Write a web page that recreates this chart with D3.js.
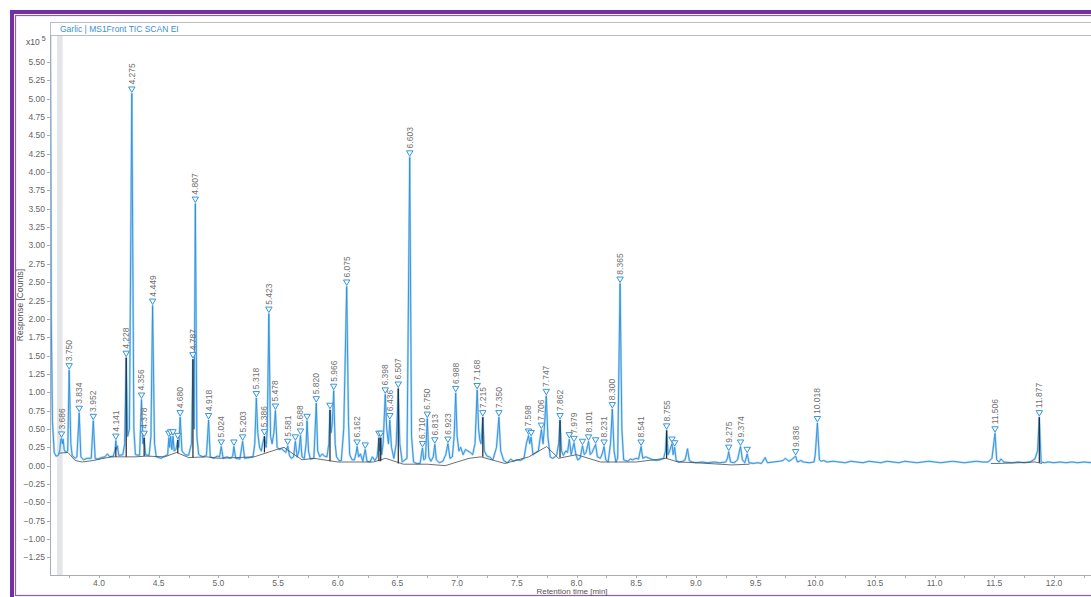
<!DOCTYPE html>
<html>
<head>
<meta charset="utf-8">
<script src="https://cdn.jsdelivr.net/npm/d3@7"></script>
<style>
  body { margin: 0; background: #fff; }
  svg { display: block; font-family: "Liberation Sans", Arial, sans-serif; }
</style>
</head>
<body>
<svg width="1091" height="597"></svg>
<script>
// chromatogram trace, [retention time (min), response (x10^5 counts)]
var tracePoints = [
  [3.593, 6.0], [3.600, 2.0], [3.610, 0.6], [3.625, 0.18], [3.640, 0.13], [3.660, 0.14],
  [3.672, 0.22], [3.680, 0.36], [3.686, 0.37], [3.692, 0.30], [3.700, 0.36], [3.708, 0.22], [3.722, 0.18],
  [3.738, 0.20], [3.750, 1.30], [3.764, 0.30], [3.775, 0.14], [3.800, 0.10], [3.815, 0.12],
  [3.834, 0.72], [3.848, 0.12], [3.870, 0.08], [3.900, 0.10], [3.935, 0.10],
  [3.952, 0.61], [3.968, 0.10], [3.990, 0.09], [4.020, 0.11], [4.050, 0.12], [4.070, 0.16], [4.090, 0.12], [4.120, 0.13],
  [4.135, 0.22], [4.141, 0.34], [4.148, 0.22], [4.155, 0.27], [4.165, 0.14], [4.200, 0.15],
  [4.215, 0.30], [4.228, 1.47], [4.240, 0.40], [4.255, 0.50], [4.275, 5.07], [4.292, 0.50], [4.305, 0.15], [4.340, 0.14],
  [4.356, 0.90], [4.368, 0.30], [4.378, 0.38], [4.390, 0.15], [4.420, 0.14], [4.435, 0.40], [4.449, 2.18], [4.465, 0.30],
  [4.480, 0.12], [4.520, 0.10], [4.550, 0.13], [4.575, 0.15],
  [4.585, 0.38], [4.592, 0.25], [4.600, 0.40], [4.610, 0.22], [4.620, 0.40], [4.630, 0.20], [4.645, 0.22], [4.660, 0.35],
  [4.668, 0.25], [4.680, 0.66], [4.695, 0.20], [4.720, 0.15], [4.750, 0.14],
  [4.775, 0.30], [4.787, 1.45], [4.797, 0.50], [4.807, 3.57], [4.820, 0.40], [4.835, 0.15], [4.870, 0.12], [4.900, 0.14],
  [4.918, 0.62], [4.932, 0.12], [4.960, 0.10], [4.990, 0.13], [5.010, 0.12], [5.024, 0.26], [5.040, 0.10], [5.070, 0.12],
  [5.100, 0.10], [5.120, 0.13], [5.130, 0.26], [5.145, 0.10], [5.180, 0.09], [5.203, 0.33], [5.220, 0.10], [5.260, 0.11],
  [5.290, 0.12], [5.305, 0.30],
  [5.318, 0.92], [5.330, 0.45], [5.345, 0.25], [5.360, 0.20], [5.370, 0.30], [5.386, 0.40], [5.400, 0.25], [5.410, 0.50],
  [5.423, 2.07], [5.437, 0.40], [5.450, 0.30], [5.465, 0.45], [5.478, 0.75], [5.492, 0.25], [5.510, 0.22], [5.530, 0.23],
  [5.550, 0.20], [5.565, 0.18],
  [5.581, 0.27], [5.595, 0.14], [5.610, 0.10], [5.630, 0.12], [5.645, 0.33], [5.660, 0.12], [5.675, 0.20], [5.688, 0.41],
  [5.700, 0.12], [5.720, 0.10], [5.735, 0.30], [5.743, 0.61], [5.755, 0.20], [5.770, 0.09], [5.800, 0.10], [5.808, 0.40],
  [5.820, 0.85], [5.832, 0.20], [5.850, 0.12], [5.870, 0.16], [5.890, 0.13], [5.910, 0.12], [5.925, 0.30], [5.935, 0.76],
  [5.945, 0.45], [5.955, 0.60], [5.966, 1.02], [5.978, 0.30], [5.990, 0.12], [6.010, 0.07], [6.030, 0.07], [6.050, 0.50],
  [6.075, 2.44], [6.090, 0.60], [6.100, 0.15], [6.120, 0.08], [6.140, 0.08], [6.155, 0.18], [6.162, 0.26], [6.175, 0.12],
  [6.190, 0.16], [6.210, 0.06], [6.230, 0.22], [6.245, 0.06], [6.270, 0.05], [6.290, 0.12], [6.310, 0.07], [6.330, 0.12],
  [6.345, 0.38], [6.352, 0.20], [6.360, 0.38], [6.368, 0.15], [6.380, 0.30], [6.398, 0.97], [6.410, 0.50], [6.425, 0.30],
  [6.436, 0.62], [6.450, 0.25], [6.470, 0.10], [6.490, 0.30], [6.507, 1.05], [6.520, 0.30], [6.540, 0.05], [6.580, 0.10],
  [6.603, 4.20], [6.618, 0.40], [6.635, 0.05], [6.660, 0.03], [6.690, 0.03],
  [6.705, 0.20], [6.710, 0.24], [6.720, 0.08], [6.735, 0.10], [6.750, 0.64], [6.763, 0.12], [6.780, 0.06], [6.800, 0.12],
  [6.813, 0.29], [6.826, 0.08], [6.850, 0.04], [6.880, 0.06], [6.905, 0.15], [6.923, 0.30], [6.940, 0.10], [6.960, 0.12],
  [6.975, 0.40], [6.988, 0.99], [7.000, 0.40], [7.015, 0.20], [7.030, 0.25], [7.050, 0.15], [7.070, 0.22], [7.090, 0.20],
  [7.110, 0.18], [7.130, 0.15], [7.150, 0.30], [7.168, 1.03], [7.180, 0.50], [7.190, 0.35], [7.200, 0.30], [7.215, 0.66],
  [7.228, 0.20], [7.250, 0.13], [7.270, 0.12], [7.300, 0.08], [7.330, 0.25], [7.350, 0.66], [7.365, 0.20], [7.390, 0.07],
  [7.420, 0.04], [7.450, 0.09], [7.470, 0.06], [7.500, 0.08], [7.530, 0.07], [7.560, 0.10], [7.580, 0.30],
  [7.598, 0.41], [7.608, 0.30], [7.620, 0.39], [7.635, 0.15], [7.660, 0.18], [7.680, 0.20], [7.706, 0.49], [7.720, 0.30],
  [7.730, 0.50], [7.747, 0.95], [7.760, 0.40], [7.780, 0.12], [7.800, 0.10], [7.820, 0.12], [7.835, 0.15], [7.850, 0.30],
  [7.862, 0.62], [7.875, 0.20], [7.890, 0.14], [7.910, 0.20], [7.925, 0.18], [7.940, 0.36], [7.955, 0.15], [7.979, 0.31],
  [7.995, 0.15], [8.010, 0.08], [8.030, 0.10], [8.050, 0.27], [8.065, 0.15], [8.080, 0.18], [8.101, 0.33], [8.115, 0.15],
  [8.130, 0.18], [8.160, 0.29], [8.175, 0.12], [8.200, 0.10], [8.215, 0.16], [8.231, 0.26], [8.245, 0.08], [8.265, 0.05],
  [8.285, 0.30], [8.300, 0.77], [8.315, 0.20], [8.330, 0.05], [8.345, 0.10], [8.365, 2.48], [8.380, 0.50], [8.395, 0.08],
  [8.410, 0.07], [8.430, 0.06], [8.450, 0.09], [8.470, 0.08], [8.500, 0.10], [8.520, 0.09], [8.541, 0.26], [8.555, 0.10],
  [8.580, 0.12], [8.610, 0.10], [8.640, 0.08], [8.670, 0.07], [8.700, 0.08], [8.730, 0.10], [8.745, 0.20], [8.755, 0.48],
  [8.768, 0.15], [8.780, 0.20], [8.800, 0.30], [8.810, 0.15], [8.822, 0.25], [8.835, 0.07], [8.860, 0.05], [8.890, 0.06],
  [8.910, 0.08], [8.930, 0.23], [8.945, 0.07], [8.970, 0.05], [9.000, 0.04], [9.050, 0.05], [9.100, 0.04], [9.150, 0.05],
  [9.200, 0.04], [9.250, 0.05], [9.265, 0.10], [9.275, 0.19], [9.290, 0.05], [9.320, 0.04], [9.350, 0.08], [9.362, 0.18],
  [9.374, 0.26], [9.390, 0.08], [9.410, 0.04], [9.430, 0.16], [9.445, 0.04], [9.480, 0.03], [9.520, 0.04], [9.550, 0.03],
  [9.580, 0.11], [9.600, 0.04], [9.650, 0.05], [9.700, 0.06], [9.730, 0.07], [9.750, 0.10], [9.780, 0.06], [9.800, 0.08],
  [9.836, 0.13], [9.850, 0.05], [9.880, 0.07], [9.900, 0.05], [9.950, 0.04], [9.990, 0.05], [10.000, 0.15], [10.018, 0.58],
  [10.035, 0.08], [10.050, 0.06], [10.070, 0.07], [10.100, 0.05], [10.150, 0.06], [10.200, 0.05], [10.250, 0.04], [10.300, 0.06],
  [10.350, 0.05], [10.400, 0.04], [10.450, 0.06], [10.500, 0.05], [10.550, 0.04], [10.600, 0.06], [10.650, 0.05], [10.700, 0.04],
  [10.750, 0.06], [10.800, 0.05], [10.850, 0.04], [10.900, 0.05], [10.950, 0.06], [11.000, 0.05], [11.050, 0.04], [11.100, 0.05],
  [11.150, 0.06], [11.200, 0.05], [11.250, 0.04], [11.300, 0.05], [11.350, 0.06], [11.400, 0.05], [11.450, 0.05], [11.480, 0.10],
  [11.506, 0.44], [11.520, 0.08], [11.540, 0.05], [11.555, 0.09], [11.580, 0.05], [11.650, 0.04], [11.700, 0.05], [11.750, 0.04],
  [11.800, 0.05], [11.840, 0.09], [11.862, 0.20], [11.877, 0.66], [11.892, 0.05], [11.920, 0.04], [11.950, 0.05], [12.000, 0.04],
  [12.050, 0.05], [12.100, 0.04], [12.150, 0.05], [12.200, 0.04], [12.250, 0.05], [12.320, 0.04]
];

// integration baseline (black)
var baselinePoints = [
  [3.667, 0.17], [3.740, 0.18], [3.800, 0.07], [3.860, 0.05], [3.950, 0.07], [4.100, 0.12], [4.300, 0.12], [4.400, 0.13],
  [4.550, 0.12], [4.650, 0.18], [4.750, 0.11], [4.900, 0.12], [5.000, 0.10], [5.300, 0.12], [5.450, 0.20], [5.550, 0.25],
  [5.600, 0.19], [5.700, 0.08], [5.800, 0.10], [6.000, 0.05], [6.300, 0.05], [6.400, 0.10], [6.550, 0.02], [6.750, 0.02],
  [6.900, 0.00], [7.100, 0.10], [7.200, 0.12], [7.400, 0.03], [7.600, 0.12], [7.750, 0.26], [7.850, 0.10], [8.000, 0.15],
  [8.200, 0.05], [8.350, 0.05], [8.500, 0.05], [8.750, 0.10], [8.850, 0.05], [9.000, 0.04], [9.300, 0.01], [9.450, 0.02]
];
var baselineLate = [
  [11.470, 0.03], [11.540, 0.03], [11.840, 0.05], [11.900, 0.03]
];

// peaks drawn dark (retention time, base, apex)
var darkPeaks = [
  [4.228, 0.12, 1.47], [4.378, 0.13, 0.38], [4.787, 0.11, 1.45], [5.386, 0.18, 0.40], [5.935, 0.06, 0.76],
  [6.345, 0.06, 0.38], [6.360, 0.06, 0.38], [6.507, 0.03, 1.05], [7.215, 0.12, 0.66], [7.862, 0.11, 0.62],
  [8.755, 0.10, 0.48], [4.660, 0.17, 0.35], [4.141, 0.12, 0.25], [11.877, 0.04, 0.66]
];

// peak labels and marker heights
var peakTimes = [3.686, 3.750, 3.834, 3.952, 4.141, 4.228, 4.275, 4.356, 4.378, 4.449, 4.585, 4.600, 4.620, 4.660,
  4.680, 4.787, 4.807, 4.918, 5.024, 5.130, 5.203, 5.318, 5.386, 5.423, 5.478, 5.581, 5.645, 5.688, 5.743, 5.820,
  5.935, 5.966, 6.075, 6.162, 6.230, 6.345, 6.360, 6.398, 6.436, 6.507, 6.603, 6.710, 6.750, 6.813, 6.923, 6.988,
  7.168, 7.215, 7.350, 7.598, 7.620, 7.706, 7.747, 7.862, 7.940, 7.979, 8.050, 8.101, 8.160, 8.231, 8.300, 8.365,
  8.541, 8.755, 8.800, 8.822, 9.275, 9.374, 9.430, 9.836, 10.018, 11.506, 11.877];
var peakHeights = [0.37, 1.30, 0.72, 0.61, 0.34, 1.47, 5.07, 0.90, 0.38, 2.18, 0.38, 0.40, 0.40, 0.35,
  0.66, 1.45, 3.57, 0.62, 0.26, 0.26, 0.33, 0.92, 0.40, 2.07, 0.75, 0.27, 0.33, 0.41, 0.61, 0.85,
  0.76, 1.02, 2.44, 0.26, 0.22, 0.38, 0.38, 0.97, 0.62, 1.05, 4.20, 0.24, 0.64, 0.29, 0.30, 0.99,
  1.03, 0.66, 0.66, 0.41, 0.39, 0.49, 0.95, 0.62, 0.36, 0.31, 0.27, 0.33, 0.29, 0.26, 0.77, 2.48,
  0.26, 0.48, 0.30, 0.25, 0.19, 0.26, 0.16, 0.13, 0.58, 0.44, 0.66];
var peakLabels = ["3.686", "3.750", "3.834", "3.952", "4.141", "4.228", "4.275", "4.356", "4.378", "4.449", "", "", "", "",
  "4.680", "4.787", "4.807", "4.918", "5.024", "", "5.203", "5.318", "5.386", "5.423", "5.478", "5.581", "", "5.688", "", "5.820",
  "", "5.966", "6.075", "6.162", "", "", "", "6.398", "6.436", "6.507", "6.603", "6.710", "6.750", "6.813", "6.923", "6.988",
  "7.168", "7.215", "7.350", "7.598", "", "7.706", "7.747", "7.862", "", "7.979", "", "8.101", "", "8.231", "8.300", "8.365",
  "8.541", "8.755", "", "", "9.275", "9.374", "", "9.836", "10.018", "11.506", "11.877"];

var yTicks = [-1.25, -1.00, -0.75, -0.50, -0.25, 0.00, 0.25, 0.50, 0.75, 1.00, 1.25, 1.50, 1.75, 2.00, 2.25, 2.50,
  2.75, 3.00, 3.25, 3.50, 3.75, 4.00, 4.25, 4.50, 4.75, 5.00, 5.25, 5.50];
var xTicks = [4.0, 4.5, 5.0, 5.5, 6.0, 6.5, 7.0, 7.5, 8.0, 8.5, 9.0, 9.5, 10.0, 10.5, 11.0, 11.5, 12.0];
var xMinorTicks = [3.75, 4.25, 4.75, 5.25, 5.75, 6.25, 6.75, 7.25, 7.75, 8.25, 8.75, 9.25, 9.75, 10.25, 10.75,
  11.25, 11.75, 12.25];
var shadeRange = [3.648, 3.695];

var svg = d3.select("svg");
var plotLeft = 50, plotTop = 35, plotBottom = 575, plotRight = 1100;

var x = d3.scaleLinear().domain([4, 12]).range([99, 1054]);
var y = d3.scaleLinear().domain([-1.25, 5.5]).range([557.4, 62]);

// purple frame
svg.append("rect").attr("x", 12).attr("y", 12).attr("width", 1100).attr("height", 620)
  .attr("fill", "none").attr("stroke", "#7131a3").attr("stroke-width", 4);
svg.append("rect").attr("x", 15.5).attr("y", 15.5).attr("width", 1100).attr("height", 580)
  .attr("fill", "none").attr("stroke", "#8e57c2").attr("stroke-width", 1.2);

// header box
svg.append("rect").attr("x", plotLeft + 0.5).attr("y", 22.5).attr("width", 1100).attr("height", 13)
  .attr("fill", "#fff").attr("stroke", "#b8bcc8").attr("stroke-width", 1);
svg.append("text").attr("x", 60).attr("y", 32).attr("font-size", 8.5).attr("fill", "#3a8fd6")
  .text("Garlic | MS1Front TIC SCAN EI");

svg.append("defs").append("clipPath").attr("id", "plotClip")
  .append("rect").attr("x", plotLeft + 1).attr("y", plotTop + 1)
  .attr("width", plotRight - plotLeft).attr("height", plotBottom - plotTop - 1);

var plot = svg.append("g").attr("clip-path", "url(#plotClip)");

plot.append("rect")
  .attr("x", x(shadeRange[0])).attr("y", plotTop)
  .attr("width", x(shadeRange[1]) - x(shadeRange[0])).attr("height", plotBottom - plotTop)
  .attr("fill", "#e4e5e8");

var line = d3.line().x((d) => x(d[0])).y((d) => y(d[1]));

plot.append("path").attr("d", line(tracePoints))
  .attr("fill", "none").attr("stroke", "#b3daf6").attr("stroke-width", 2.2).attr("stroke-linejoin", "round");
plot.append("path").attr("d", line(tracePoints))
  .attr("fill", "none").attr("stroke", "#2a8edb").attr("stroke-width", 0.9);

plot.append("path").attr("d", line(baselinePoints))
  .attr("fill", "none").attr("stroke", "#454a54").attr("stroke-width", 0.8);
plot.append("path").attr("d", line(baselineLate))
  .attr("fill", "none").attr("stroke", "#454a54").attr("stroke-width", 0.8);

plot.selectAll(".dark")
  .data(darkPeaks)
  .enter()
  .append("line")
  .classed("dark", true)
  .attr("x1", (d) => x(d[0])).attr("x2", (d) => x(d[0]))
  .attr("y1", (d) => y(d[1])).attr("y2", (d) => y(d[2]))
  .attr("stroke", "#22262e").attr("stroke-width", 1.2);

// peak markers and labels
var peaks = peakTimes.map((t, i) => ({ t: t, h: peakHeights[i], label: peakLabels[i] }));

var marks = plot.selectAll(".peak")
  .data(peaks)
  .enter()
  .append("g")
  .classed("peak", true)
  .attr("transform", (d) => `translate(${x(d.t)}, ${y(d.h) - 4})`);

marks.append("path")
  .attr("d", "M-3.2,-2.6 L3.2,-2.6 L0,2.8 Z")
  .attr("fill", "#fff").attr("stroke", "#3595dd").attr("stroke-width", 1);

marks.append("text")
  .attr("transform", "translate(0,-5) rotate(-90)")
  .attr("dy", "0.35em")
  .attr("font-size", 8.5)
  .attr("fill", "#707070")
  .text((d) => d.label);

// axes
svg.append("line").attr("x1", plotLeft + 0.5).attr("x2", plotLeft + 0.5)
  .attr("y1", plotTop).attr("y2", plotBottom + 0.5).attr("stroke", "#a8acb8");
svg.append("line").attr("x1", plotLeft).attr("x2", plotRight)
  .attr("y1", plotBottom + 0.5).attr("y2", plotBottom + 0.5).attr("stroke", "#a8acb8");

var yAxis = svg.append("g");
yAxis.selectAll(".ytick")
  .data(yTicks)
  .enter()
  .append("line")
  .attr("x1", plotLeft - 3).attr("x2", plotLeft)
  .attr("y1", (d) => Math.round(y(d)) + 0.5).attr("y2", (d) => Math.round(y(d)) + 0.5)
  .attr("stroke", "#a8acb8");
yAxis.selectAll(".ylab")
  .data(yTicks)
  .enter()
  .append("text")
  .attr("x", plotLeft - 5).attr("y", (d) => y(d))
  .attr("dy", "0.35em").attr("text-anchor", "end")
  .attr("font-size", 8.5).attr("fill", "#666")
  .text((d) => d3.format(".2f")(d));

var xAxis = svg.append("g");
xAxis.selectAll(".xtick")
  .data(xTicks.concat(xMinorTicks))
  .enter()
  .append("line")
  .attr("x1", (d) => Math.round(x(d)) + 0.5).attr("x2", (d) => Math.round(x(d)) + 0.5)
  .attr("y1", plotBottom).attr("y2", plotBottom + 3)
  .attr("stroke", "#a8acb8");
xAxis.selectAll(".xlab")
  .data(xTicks)
  .enter()
  .append("text")
  .attr("x", (d) => x(d)).attr("y", 586)
  .attr("text-anchor", "middle")
  .attr("font-size", 8.5).attr("fill", "#666")
  .text((d) => d3.format(".1f")(d));

svg.append("text").attr("x", 572).attr("y", 594).attr("text-anchor", "middle")
  .attr("font-size", 8).attr("fill", "#555").text("Retention time [min]");

svg.append("text").attr("transform", "translate(23, 305) rotate(-90)")
  .attr("text-anchor", "middle").attr("font-size", 8.5).attr("fill", "#555")
  .text("Response [Counts]");

var exp = svg.append("text").attr("x", 26).attr("y", 45).attr("font-size", 8.5).attr("fill", "#555");
exp.append("tspan").text("x10");
exp.append("tspan").attr("dx", 2).attr("dy", -4).attr("font-size", 7).text("5");
</script>
</body>
</html>
